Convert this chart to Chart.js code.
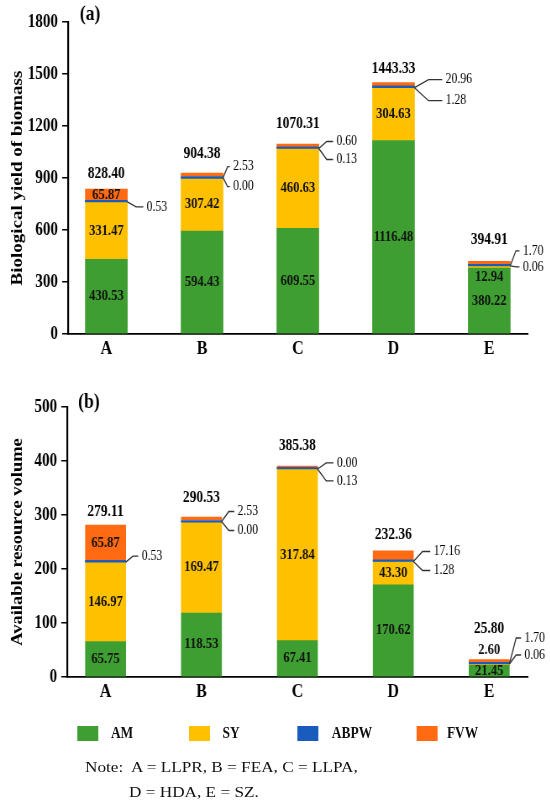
<!DOCTYPE html>
<html>
<head>
<meta charset="utf-8">
<script src="https://cdn.jsdelivr.net/npm/chart.js@4.4.1/dist/chart.umd.min.js"></script>
<style>
  body { margin:0; background:#fff; width:550px; height:804px; overflow:hidden; position:relative; }
  /* the source figure is squeezed horizontally, so draw wider and squeeze */
  #wrap { position:absolute; left:0; top:0; width:655px; height:760px; transform:scaleX(0.84); transform-origin:0 0; }
  #wrap canvas { position:absolute; left:0; }
  .key { position:absolute; top:726px; width:25px; height:15px; }
  .keyText { position:absolute; top:724px; font:bold 16px "Liberation Serif", serif; line-height:18px; color:#111; }
  .note { position:absolute; font:15.5px "Liberation Serif", serif; line-height:18px; white-space:pre; color:#111;
          transform:scaleX(1.11); transform-origin:0 0; }
</style>
</head>
<body>
<div id="wrap">
  <canvas id="c1" width="655" height="365" style="top:0;width:655px;height:365px"></canvas>
  <canvas id="c2" width="655" height="345" style="top:365px;width:655px;height:345px"></canvas>
  <div id="legend"></div>
</div>
<div class="note" style="left:85px;top:758px">Note:  A = LLPR, B = FEA, C = LLPA,</div>
<div class="note" style="left:129px;top:783px">D = HDA, E = SZ.</div>
<script>
const categories = ['A', 'B', 'C', 'D', 'E'];
const seriesNames = ['AM', 'SY', 'ABPW', 'FVW'];
const seriesColors = ['#3E9E31', '#FFC000', '#1A5BBE', '#FF6A12'];

// (a) biological yield of biomass
const amA   = [430.53, 594.43, 609.55, 1116.48, 380.22];
const syA   = [331.47, 307.42, 460.63, 304.63, 12.94];
const abpwA = [0.53, 0.00, 0.13, 1.28, 0.06];
const fvwA  = [65.87, 2.53, 0.60, 20.96, 1.70];
const totalA = [828.40, 904.38, 1070.31, 1443.33, 394.91];
const ticksA = [0, 300, 600, 900, 1200, 1500, 1800];

// (b) available resource volume
const amB   = [65.75, 118.53, 67.41, 170.62, 21.45];
const syB   = [146.97, 169.47, 317.84, 43.30, 2.60];
const abpwB = [0.53, 0.00, 0.13, 1.28, 0.06];
const fvwB  = [65.87, 2.53, 0.00, 17.16, 1.70];
const totalB = [279.11, 290.53, 385.38, 232.36, 25.80];
const ticksB = [0, 100, 200, 300, 400, 500];

const serif = '"Liberation Serif", "Times New Roman", serif';

// legend
const keyX = [92, 225, 354, 496], keyTextX = [132, 265, 395, 532];
const legend = document.getElementById('legend');
seriesNames.forEach((name, k) => {
  const sq = document.createElement('div');
  sq.className = 'key';
  sq.style.left = keyX[k] + 'px';
  sq.style.background = seriesColors[k];
  const tx = document.createElement('div');
  tx.className = 'keyText';
  tx.style.left = keyTextX[k] + 'px';
  tx.textContent = name;
  legend.appendChild(sq);
  legend.appendChild(tx);
});

// value labels, leader lines and the panel tag
function labelPlugin(cfg) {
  return {
    id: 'stackLabels',
    afterDatasetsDraw(chart) {
      const ctx = chart.ctx;
      const metas = [0, 1, 2, 3].map(k => chart.getDatasetMeta(k));
      metas[2].data.forEach(el => el.draw(ctx)); // keep the thin ABPW line on top
      const val = (k, i) => chart.data.datasets[k].data[i].y;
      const mid = el => (el.y + el.base) / 2;
      ctx.save();
      ctx.textBaseline = 'middle';
      ctx.strokeStyle = '#333';
      ctx.lineWidth = 1.3;
      categories.forEach((c, i) => {
        const [am, sy, ab, fv] = metas.map(m => m.data[i]);
        const top = Math.min(am.y, sy.y, ab.y, fv.y);
        ctx.fillStyle = '#111';
        ctx.textAlign = 'center';
        ctx.font = 'bold 15px ' + serif;
        ctx.fillText(val(0, i).toFixed(2), am.x, mid(am));
        if (sy.base - sy.y >= 12) ctx.fillText(val(1, i).toFixed(2), sy.x, mid(sy));
        else if (cfg.thin === 'inside') ctx.fillText(val(1, i).toFixed(2), sy.x, am.y + 9);
        else ctx.fillText(val(1, i).toFixed(2), sy.x, top - 9);
        const fvInside = fv.base - fv.y >= 10;
        if (fvInside) ctx.fillText(val(3, i).toFixed(2), fv.x, mid(fv));

        ctx.fillStyle = '#000';
        ctx.font = 'bold 16px ' + serif;
        ctx.fillText(cfg.totals[i].toFixed(2), am.x, top - cfg.totalGap[i]);

        ctx.font = '14px ' + serif;
        ctx.textAlign = 'left';
        const side = fvInside ? [val(2, i)] : [val(3, i), val(2, i)];
        const x0 = am.x + am.width / 2, y0 = sy.y, dx = cfg.dx[i];
        side.forEach((v, k) => {
          const ty = y0 + cfg.dy[i][k];
          ctx.beginPath();
          ctx.moveTo(x0, y0);
          ctx.lineTo(x0 + dx * 0.45, ty);
          ctx.lineTo(x0 + dx - 4, ty);
          ctx.stroke();
          ctx.fillText(v.toFixed(2), x0 + dx, ty);
        });
      });
      ctx.fillStyle = '#000';
      ctx.font = 'bold 21px ' + serif;
      ctx.textAlign = 'left';
      ctx.fillText(cfg.tag, cfg.tagX, cfg.tagY);
      ctx.restore();
    }
  };
}

function makeChart(id, cfg) {
  const datasets = cfg.series.map((vals, k) => ({
    label: seriesNames[k],
    data: vals.map((v, i) => ({x: i, y: v})),
    backgroundColor: seriesColors[k],
    borderWidth: 0,
    barThickness: cfg.barW,
    minBarLength: [0, 0, 1.5, 3][k]
  }));
  return new Chart(document.getElementById(id), {
    type: 'bar',
    data: {datasets: datasets},
    options: {
      responsive: false,
      animation: false,
      layout: {padding: {left: 0, right: 27, top: cfg.top, bottom: 0}},
      plugins: {legend: {display: false}, tooltip: {enabled: false}},
      scales: {
        x: {
          type: 'linear', stacked: true, min: -0.4, max: 4.4, offset: false,
          grid: {display: false, drawTicks: false, offset: false},
          border: {display: true, color: '#000', width: 1.8},
          afterBuildTicks: s => { s.ticks = categories.map((c, i) => ({value: i})); },
          ticks: {callback: v => categories[v], color: '#000', autoSkip: false, maxRotation: 0,
                  padding: 4, font: {family: serif, size: 19, weight: 'bold'}},
          afterFit: s => { s.height = cfg.xh; }
        },
        y: {
          stacked: true, min: cfg.ticks[0], max: cfg.ticks[cfg.ticks.length - 1],
          afterBuildTicks: s => { s.ticks = cfg.ticks.map(v => ({value: v})); },
          grid: {drawOnChartArea: false, drawTicks: true, tickLength: 7, color: '#000', lineWidth: 1.5},
          border: {display: true, color: '#000', width: 2.2},
          ticks: {callback: v => String(v), color: '#000', padding: 5,
                  font: {family: serif, size: 18, weight: 'bold'}},
          title: {display: true, text: cfg.title, color: '#000', padding: {top: 10, bottom: 0},
                  font: {family: serif, size: cfg.titleSize, weight: 'bold'}},
          afterFit: s => { s.width = cfg.yw; }
        }
      }
    },
    plugins: [labelPlugin(cfg)]
  });
}

makeChart('c1', {
  series: [amA, syA, abpwA, fvwA], totals: totalA, ticks: ticksA,
  title: 'Biological yield of biomass', titleSize: 19, tag: '(a)', tagX: 95, tagY: 15,
  top: 22, xh: 31, yw: 81, barW: 50, thin: 'inside',
  totalGap: [15, 19, 20, 14, 21],
  dx: [23, 12, 21, 37, 15],
  dy: [[5], [-11, 9], [-7, 11], [-8, 13], [-15, 1]]
});

makeChart('c2', {
  series: [amB, syB, abpwB, fvwB], totals: totalB, ticks: ticksB,
  title: 'Available resource volume', titleSize: 18.5, tag: '(b)', tagX: 93, tagY: 38,
  top: 42, xh: 33, yw: 80, barW: 48, thin: 'above',
  totalGap: [13, 19, 20, 16, 31],
  dx: [19, 19, 23, 24, 18],
  dy: [[-6], [-10, 9], [-6, 12], [-10, 9], [-26, -9]]
});
</script>
</body>
</html>
